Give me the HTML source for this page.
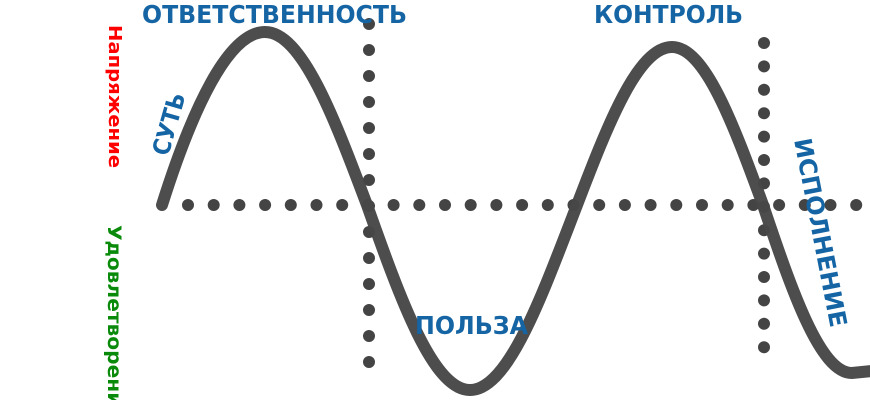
<!DOCTYPE html>
<html><head><meta charset="utf-8"><style>
html,body{margin:0;padding:0;background:#fff;}
svg{display:block;}
text{font-family:"DejaVu Sans","Liberation Sans",sans-serif;font-weight:bold;}
</style></head><body>
<svg width="870" height="400" viewBox="0 0 870 400" xmlns="http://www.w3.org/2000/svg">
<g fill="none" stroke="#444" stroke-linecap="round" stroke-width="12">
<line x1="188" y1="205" x2="862" y2="205" stroke-dasharray="0 25.7"/>
<line x1="369" y1="24" x2="369" y2="388" stroke-dasharray="0 26"/>
<line x1="764" y1="43" x2="764" y2="370" stroke-dasharray="0 23.4"/>
</g>
<path d="M162,205 C192,110 228,32 265,32 C301.7,32 333.7,116.4 367,205 C400.6,299.8 433,390 470,390 C508.5,390 542.1,295.2 577,205 C608,124 638,47 672,47 C704.8,47 733.3,124 763,205 C792,291 820,373 852,373 L872,371" fill="none" stroke="#474747" stroke-width="12" stroke-linecap="round" opacity="0.97"/>
<g fill="#1565a5" font-size="25">
<text x="142" y="23" textLength="265" lengthAdjust="spacingAndGlyphs">ОТВЕТСТВЕННОСТЬ</text>
<text x="594" y="23" textLength="149" lengthAdjust="spacingAndGlyphs">КОНТРОЛЬ</text>
<text x="415" y="334" textLength="113" lengthAdjust="spacingAndGlyphs">ПОЛЬЗА</text>
<text transform="translate(168,157) rotate(-74)" font-size="24" textLength="64" lengthAdjust="spacingAndGlyphs">СУТЬ</text>
<text transform="translate(794,140) rotate(79)" font-size="24" textLength="192" lengthAdjust="spacingAndGlyphs">ИСПОЛНЕНИЕ</text>
</g>
<text transform="translate(109,25) rotate(90)" font-size="18" fill="#ff0000" textLength="143" lengthAdjust="spacingAndGlyphs">Напряжение</text>
<text transform="translate(108,225) rotate(90)" font-size="19" fill="#0a8a0a" textLength="195" lengthAdjust="spacingAndGlyphs">Удовлетворение</text>
</svg>
</body></html>
